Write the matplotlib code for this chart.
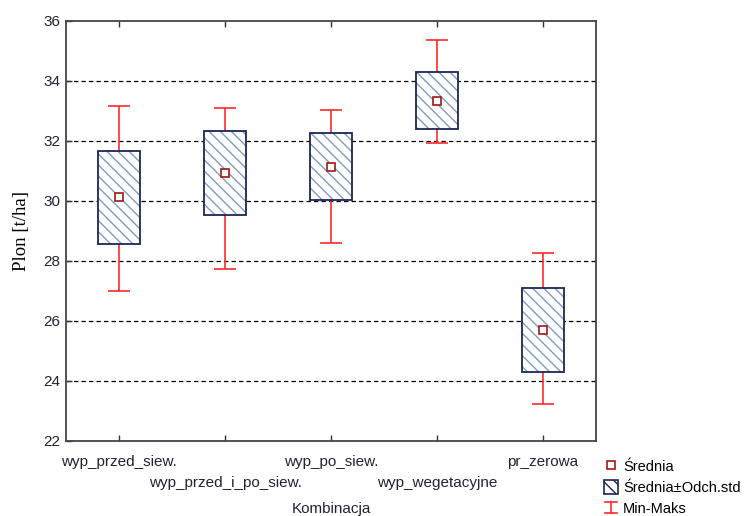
import matplotlib
matplotlib.use("Agg")
import matplotlib.pyplot as plt
import numpy as np
from matplotlib.patches import Patch
from matplotlib.lines import Line2D
from matplotlib.legend_handler import HandlerBase

categories = ["wyp_przed_siew.", "wyp_przed_i_po_siew.", "wyp_po_siew.",
              "wyp_wegetacyjne", "pr_zerowa"]
means = [30.13, 30.93, 31.15, 33.35, 25.70]
stds = [1.55, 1.41, 1.12, 0.94, 1.39]
mins = [27.01, 27.75, 28.59, 31.93, 23.23]
maxs = [33.18, 33.10, 33.02, 35.37, 28.26]
yticks = [22, 24, 26, 28, 30, 32, 34, 36]

RED = '#ff2a2a'
NAVY = '#1c2558'
HATCH_BLUE = '#7f9cc4'
MEAN_RED = '#a01818'

plt.rcParams['hatch.linewidth'] = 1.0
plt.rcParams['font.family'] = ['Liberation Sans', 'DejaVu Sans']


class IBarHandler(HandlerBase):
    """Legend key drawn as a vertical bar with end caps."""
    def create_artists(self, legend, orig_handle, xdescent, ydescent,
                       width, height, fontsize, trans):
        cx = width / 2 - xdescent
        y0 = -ydescent + 1.5
        y1 = height - ydescent
        hw = width * 0.45
        kw = dict(color=RED, linewidth=1.2, transform=trans)
        return [Line2D([cx, cx], [y0, y1], **kw),
                Line2D([cx - hw, cx + hw], [y0, y0], **kw),
                Line2D([cx - hw, cx + hw], [y1, y1], **kw)]


fig = plt.figure(figsize=(7.5, 5.16), dpi=100)
ax = fig.add_axes([66/750, 1-441/516, (596-66)/750, (441-21)/516])

x = np.arange(len(categories))
means_a = np.array(means)
stds_a = np.array(stds)
lo = means_a - np.array(mins)
hi = np.array(maxs) - means_a

# whiskers (min-max)
ax.errorbar(x, means_a, yerr=[lo, hi], fmt='none', ecolor=RED,
            elinewidth=1.2, capsize=8, capthick=1.2, zorder=3)

# mean ± std boxes: white fill + hatch layer + navy outline
ax.bar(x, 2*stds_a, bottom=means_a-stds_a, width=0.4, color='white',
       edgecolor='none', zorder=4)
ax.bar(x, 2*stds_a, bottom=means_a-stds_a, width=0.4, color='none',
       edgecolor=HATCH_BLUE, hatch='\\\\\\', linewidth=0, zorder=5)
ax.bar(x, 2*stds_a, bottom=means_a-stds_a, width=0.4, color='none',
       edgecolor=NAVY, linewidth=1.3, zorder=6)

# mean markers
ax.plot(x, means_a, linestyle='none', marker='s', markersize=6,
        markerfacecolor='white', markeredgecolor=MEAN_RED,
        markeredgewidth=1.2, zorder=7)

ax.set_xlim(-0.5, len(categories)-0.5)
ax.set_ylim(22, 36)
ax.set_yticks(yticks)

# category labels staggered on two rows: even ones on major ticks, odd on minor
ax.set_xticks(x[::2])
ax.set_xticklabels(categories[::2])
ax.set_xticks(x[1::2], minor=True)
ax.set_xticklabels(categories[1::2], minor=True)

for yv in yticks[1:-1]:
    ax.axhline(yv, color='black', linestyle=(0, (3.5, 2.5)), linewidth=0.9, zorder=1)

ax.tick_params(axis='both', which='both', direction='in', length=4, width=1,
               colors='#333333', labelsize=11, labelcolor='#222233', top=True)
ax.tick_params(axis='y', pad=4)
ax.tick_params(axis='x', which='major', pad=10)
ax.tick_params(axis='x', which='minor', pad=25)
for s in ax.spines.values():
    s.set_color('#444444')
    s.set_linewidth(1.3)

ax.set_ylabel("Plon [t/ha]", family=['Liberation Serif'], fontsize=13.5, labelpad=10)
ax.set_xlabel("Kombinacja", fontsize=11, labelpad=9, color='#222233')

handles = [
    Line2D([], [], linestyle='none', marker='s', markersize=6,
           markerfacecolor='white', markeredgecolor=MEAN_RED, markeredgewidth=1.2),
    Patch(facecolor='white', edgecolor=NAVY, hatch='\\\\\\', linewidth=1.2),
    'ibar',
]
labels = ["Średnia", "Średnia±Odch.std", "Min-Maks"]
fig.legend(handles, labels, loc='upper left', bbox_to_anchor=(604/750, 1-459/516),
           frameon=False, fontsize=10.5, handlelength=0.95, handleheight=1.05,
           handletextpad=0.35, labelspacing=0.45, borderpad=0, borderaxespad=0,
           handler_map={str: IBarHandler()})

fig.savefig("out.png", dpi=100)
